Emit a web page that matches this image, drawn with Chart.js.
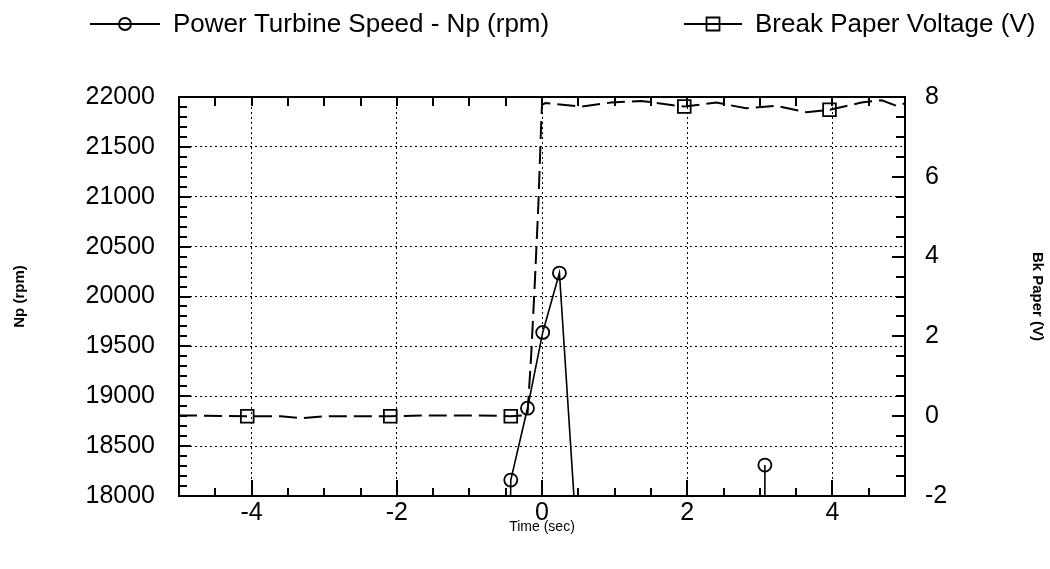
<!DOCTYPE html>
<html>
<head>
<meta charset="utf-8">
<script src="https://cdn.jsdelivr.net/npm/chart.js@4"></script>
<style>
  html, body { margin: 0; padding: 0; background: #fff; }
</style>
</head>
<body>
<canvas id="chart" width="1050" height="569"></canvas>
<script>
// Power turbine speed, time (sec) / Np (rpm)
const npTime = [-0.46, -0.43, -0.2, 0.01, 0.24, 0.52, 3.06, 3.07];
const npSpeed = [16000, 18160, 18880, 19640, 20235, 17100, 16000, 18310];

// Break paper voltage, time (sec) / volts
const bpTime = [-5.0, -4.06, -3.6, -3.3, -3.0, -2.09, -1.5, -0.9, -0.43, -0.2, -0.15, -0.1, -0.05, -0.01, 0.0,
  0.05, 0.54, 0.95, 1.37, 1.78, 1.96, 2.4, 2.81, 3.23, 3.64, 3.96, 4.4, 4.68, 4.88, 5.0];
const bpVolt = [0.02, 0.0, 0.0, -0.05, 0.0, 0.0, 0.02, 0.02, 0.0, 0.03, 1.5, 3.3, 5.3, 7.4, 7.8,
  7.85, 7.76, 7.86, 7.9, 7.8, 7.76, 7.86, 7.72, 7.78, 7.62, 7.68, 7.86, 7.92, 7.78, 7.84];
// samples that carry a square marker
const bpMarkTime = [-4.06, -2.09, -0.43, 1.96, 3.96];

const xTickVals = [-4, -2, 0, 2, 4];
const npTickVals = [18000, 18500, 19000, 19500, 20000, 20500, 21000, 21500, 22000];
const bpTickVals = [-2, 0, 2, 4, 6, 8];

Chart.defaults.font.family = '"Liberation Sans", Arial, sans-serif';
Chart.defaults.color = '#000';

const setTicks = vals => scale => { scale.ticks = vals.map(v => ({ value: v })); };
const plain = v => String(v);

// small inward tick marks on all four sides of the frame
const frameTicks = {
  id: 'frameTicks',
  afterDraw(chart) {
    const { ctx, chartArea: a, scales } = chart;
    ctx.save();
    ctx.strokeStyle = '#000';
    ctx.lineWidth = 2;
    ctx.beginPath();
    for (let v = -4.5; v <= 4.5; v += 0.5) {
      const px = Math.round(scales.x.getPixelForValue(v));
      ctx.moveTo(px, a.bottom); ctx.lineTo(px, a.bottom - (v % 2 === 0 ? 16 : 8));
      ctx.moveTo(px, a.top); ctx.lineTo(px, a.top + 9);
    }
    for (let v = 18100; v < 22000; v += 100) {
      const py = Math.round(scales.y.getPixelForValue(v));
      ctx.moveTo(a.left, py); ctx.lineTo(a.left + (v % 500 === 0 ? 12 : 8), py);
    }
    for (let v = -1.5; v < 8; v += 0.5) {
      const py = Math.round(scales.y1.getPixelForValue(v));
      ctx.moveTo(a.right, py); ctx.lineTo(a.right - (v % 2 === 0 ? 13 : 9), py);
    }
    ctx.stroke();
    ctx.restore();
  }
};

// legend above the plot: line + marker icon, then the label
const legendSpots = [
  { x0: 90, x1: 160, textX: 173 },
  { x0: 684, x1: 742, textX: 755 }
];
const topLegend = {
  id: 'topLegend',
  afterDraw(chart) {
    const { ctx } = chart;
    const y = 24;
    ctx.save();
    chart.data.datasets.forEach((ds, i) => {
      const s = legendSpots[i];
      ctx.strokeStyle = '#000';
      ctx.lineWidth = 1.8;
      ctx.beginPath();
      ctx.moveTo(s.x0, y); ctx.lineTo(s.x1, y);
      const cx = (s.x0 + s.x1) / 2;
      if (ds.pointStyle === 'rect') {
        ctx.rect(cx - 6.5, y - 6.5, 13, 13);
      } else {
        ctx.moveTo(cx + 6, y);
        ctx.arc(cx, y, 6, 0, Math.PI * 2);
      }
      ctx.stroke();
      ctx.fillStyle = '#000';
      ctx.font = '26px "Liberation Sans", Arial, sans-serif';
      ctx.textBaseline = 'middle';
      ctx.fillText(ds.label, s.textX, y + 1);
    });
    ctx.restore();
  }
};

new Chart(document.getElementById('chart'), {
  type: 'line',
  data: {
    datasets: [
      {
        label: 'Power Turbine Speed - Np (rpm)',
        data: npTime.map((t, i) => ({ x: t, y: npSpeed[i] })),
        yAxisID: 'y',
        borderColor: '#000',
        borderWidth: 1.6,
        tension: 0,
        pointStyle: 'circle',
        pointRadius: 6.5,
        pointBorderWidth: 1.8,
        pointBorderColor: '#000',
        pointBackgroundColor: 'rgba(0,0,0,0)'
      },
      {
        label: 'Break Paper Voltage (V)',
        data: bpTime.map((t, i) => ({ x: t, y: bpVolt[i] })),
        yAxisID: 'y1',
        borderColor: '#000',
        borderWidth: 2,
        borderDash: [18, 7],
        tension: 0,
        pointStyle: 'rect',
        pointRadius: c => bpMarkTime.includes(c.raw.x) ? 9 : 0,
        pointBorderWidth: 1.8,
        pointBorderColor: '#000',
        pointBackgroundColor: 'rgba(0,0,0,0)'
      }
    ]
  },
  options: {
    responsive: false,
    animation: false,
    devicePixelRatio: 1,
    layout: { padding: { top: 97, left: 0, right: 0, bottom: 0 } },
    plugins: { legend: { display: false }, tooltip: { enabled: false } },
    scales: {
      x: {
        type: 'linear', position: 'bottom', min: -5, max: 5,
        afterBuildTicks: setTicks(xTickVals),
        afterFit: s => { s.height = 73; },
        grid: { color: '#000', lineWidth: 1, drawTicks: false },
        border: { display: true, color: '#000', width: 2, dash: [2, 3] },
        ticks: { font: { size: 25 }, padding: 2, maxRotation: 0, autoSkip: false, callback: plain },
        title: { display: true, text: 'Time (sec)', font: { size: 14 }, padding: { top: 0, bottom: 33 } }
      },
      x2: {
        type: 'linear', position: 'top', min: -5, max: 5,
        afterFit: s => { s.height = 0; },
        grid: { drawOnChartArea: false, drawTicks: false },
        border: { display: true, color: '#000', width: 2 },
        ticks: { display: false }
      },
      y: {
        type: 'linear', position: 'left', min: 18000, max: 22000,
        afterBuildTicks: setTicks(npTickVals),
        afterFit: s => { s.width = 179; },
        grid: { color: '#000', lineWidth: 1, drawTicks: false },
        border: { display: true, color: '#000', width: 2, dash: [2, 3] },
        ticks: { font: { size: 25 }, padding: 24, callback: plain },
        title: { display: true, text: 'Np (rpm)', font: { size: 15, weight: 'bold' }, padding: { top: 11, bottom: 0 } }
      },
      y1: {
        type: 'linear', position: 'right', min: -2, max: 8,
        afterBuildTicks: setTicks(bpTickVals),
        afterFit: s => { s.width = 145; },
        grid: { drawOnChartArea: false, drawTicks: false },
        border: { display: true, color: '#000', width: 2 },
        ticks: { font: { size: 25 }, padding: 20, callback: plain },
        title: { display: true, text: 'Bk Paper (V)', font: { size: 15, weight: 'bold' }, padding: { top: 4, bottom: 0 } }
      }
    }
  },
  plugins: [frameTicks, topLegend]
});
</script>
</body>
</html>
